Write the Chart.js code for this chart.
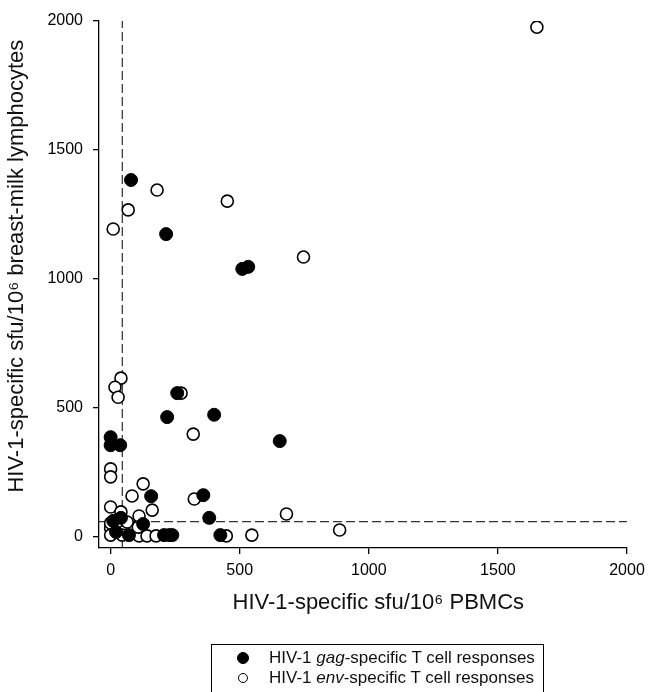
<!DOCTYPE html>
<html>
<head>
<meta charset="utf-8">
<script src="https://cdn.jsdelivr.net/npm/chart.js@4"></script>
<style>
  body { margin: 0; background: #fff; overflow: hidden; }
  #wrap { position: relative; width: 649px; height: 692px; }
  #legend {
    position: absolute; left: 211px; top: 644px; width: 333px; height: 70px;
    border: 1px solid #000; box-sizing: border-box;
    font-family: "Liberation Sans", Arial, sans-serif; font-size: 17px; color: #111;
  }
  .row { position: absolute; left: 0; height: 20px; line-height: 20px; }
  .dot { position: absolute; top: 4px; border-radius: 50%; border: 1.5px solid #000; box-sizing: border-box; }
  .txt { position: absolute; left: 57px; white-space: nowrap; }
</style>
</head>
<body>
<div id="wrap">
  <canvas id="chart" width="649" height="692"></canvas>
  <div id="legend"></div>
</div>
<script>
// gag-specific responses (filled circles)
const gagX = [79, 215, 510, 533, 258, 219, 401, 655, 0, 0, 37, 157, 359, 382, 126, 40, 10, 21, 71, 207, 227, 239, 425];
const gagY = [1383, 1173, 1038, 1046, 556, 463, 472, 370, 385, 354, 354, 156, 160, 72, 48, 72, 60, 17, 5, 5, 5, 5, 5];

// env-specific responses (open circles)
const envX = [1651, 180, 68, 10, 452, 747, 40, 17, 29, 273, 320, 0, 0, 126, 83, 324, 161, 110, 681, 887, 0, 40, 0, 45, 83, 0, 45, 110, 141, 176, 448, 547, 25, 64, 0, 107];
const envY = [1976, 1344, 1267, 1193, 1301, 1084, 614, 579, 540, 556, 397, 262, 231, 204, 157, 145, 102, 79, 87, 25, 114, 95, 33, 33, 36, 5, 5, 2, 2, 2, 2, 5, 56, 56, 52, 36];

const seriesNames = ['gag', 'env'];
const xTicks = [0, 500, 1000, 1500, 2000];
const yTicks = [0, 500, 1000, 1500, 2000];
const cutoffX = 45;   // vertical dashed line
const cutoffY = 57;   // horizontal dashed line
const axisMin = -45;
const axisMax = 2000;

const toPoints = (xs, ys) => xs.map((x, i) => ({ x: x, y: ys[i] }));

const dashed = {
  type: 'line', borderColor: '#000', borderWidth: 1, borderDash: [9, 4],
  pointRadius: 0, fill: false, showLine: true
};

const tickFont = { family: 'Liberation Sans', size: 16 };
const titleFont = { family: 'Liberation Sans', size: 22 };

const ctx = document.getElementById('chart').getContext('2d');
new Chart(ctx, {
  type: 'scatter',
  data: {
    datasets: [
      { label: seriesNames[0], data: toPoints(gagX, gagY), pointRadius: 6.5,
        backgroundColor: '#000', borderColor: '#000', borderWidth: 1 },
      { label: seriesNames[1], data: toPoints(envX, envY), pointRadius: 6,
        backgroundColor: '#fff', borderColor: '#000', borderWidth: 1.6 },
      Object.assign({ data: [{ x: cutoffX, y: axisMin }, { x: cutoffX, y: axisMax }] }, dashed),
      Object.assign({ data: [{ x: axisMin, y: cutoffY }, { x: axisMax, y: cutoffY }] }, dashed)
    ]
  },
  options: {
    responsive: false,
    animation: false,
    layout: { padding: { left: 0, top: 21, right: 22, bottom: 72 } },
    plugins: { legend: { display: false }, tooltip: { enabled: false } },
    scales: {
      x: {
        type: 'linear', min: axisMin, max: axisMax,
        afterBuildTicks: s => { s.ticks = xTicks.map(v => ({ value: v })); },
        afterFit: s => { s.height = 72; s.paddingRight = 0; },
        border: { display: true, color: '#000', width: 1.3 },
        grid: { drawOnChartArea: false, drawTicks: true, tickLength: 6, color: '#000', lineWidth: 1.3 },
        ticks: { color: '#000', padding: 7, font: tickFont, callback: v => String(v) },
        title: { display: true, text: '     HIV-1-specific sfu/10⁶ PBMCs', color: '#111',
          font: titleFont, padding: { bottom: 4 } }
      },
      y: {
        type: 'linear', min: axisMin, max: axisMax,
        afterBuildTicks: s => { s.ticks = yTicks.map(v => ({ value: v })); },
        afterFit: s => { s.width = 99; },
        border: { display: true, color: '#000', width: 1.3 },
        grid: { drawOnChartArea: false, drawTicks: true, tickLength: 6, color: '#000', lineWidth: 1.3 },
        ticks: { color: '#000', padding: 10, font: tickFont, callback: v => String(v) },
        title: { display: true, text: '      HIV-1-specific sfu/10⁶ breast-milk lymphocytes', color: '#111',
          font: titleFont, padding: { top: 4 } }
      }
    }
  }
});

// legend box below the chart
const legend = document.getElementById('legend');
const fills = ['#000', '#fff'];
const dotSize = [12, 10];
seriesNames.forEach((name, i) => {
  const row = document.createElement('div');
  row.className = 'row';
  row.style.top = (3 + i * 20) + 'px';
  const off = (12 - dotSize[i]) / 2;
  row.innerHTML = '<span class="dot" style="background:' + fills[i] + ';width:' + dotSize[i] +
    'px;height:' + dotSize[i] + 'px;left:' + (25 + off) + 'px;top:' + (4 + off) + 'px"></span>' +
    '<span class="txt">HIV-1 <i>' + name + '</i>-specific T cell responses</span>';
  legend.appendChild(row);
});
</script>
</body>
</html>
